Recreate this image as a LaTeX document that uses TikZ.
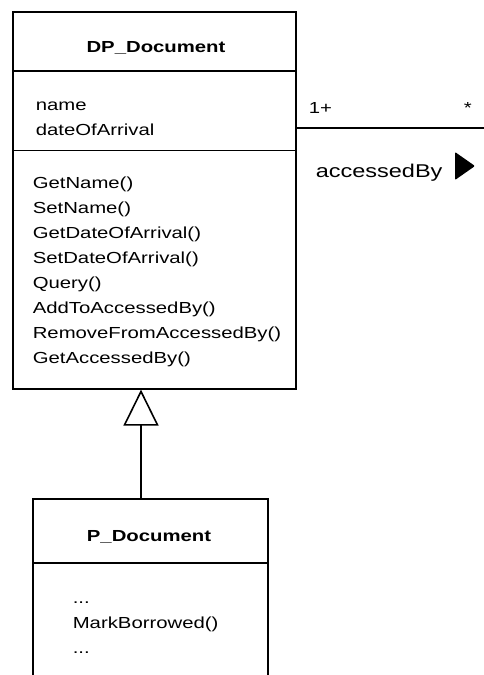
\documentclass[tikz,border=0pt]{standalone}
\usepackage{fontspec}
\setmainfont{Liberation Sans}[FakeStretch=1.27]
\usetikzlibrary{arrows.meta}
\begin{document}
\begin{tikzpicture}[x=1pt,y=-1pt,line width=1.6pt,
  classbox/.style={draw,rectangle,inner sep=0pt,anchor=north west},
  cname/.style={font=\bfseries\fontsize{16}{20}\selectfont,anchor=base,inner sep=0pt},
  member/.style={font=\fontsize{16}{20}\selectfont,anchor=base west,inner sep=0pt},
  rolelabel/.style={font=\fontsize{18.5}{22}\selectfont,anchor=base west,inner sep=0pt}]
\useasboundingbox (0,0) rectangle (484,675);
\fill[white] (0,0) rectangle (484,675);
\clip (0,0) rectangle (484,675);
% classes
\node[classbox,minimum width=283pt,minimum height=377pt] (dp) at (12,11) {};
\node[classbox,minimum width=235pt,minimum height=200pt] (pd) at (32,498) {};
% compartment dividers
\coordinate (d1) at (0,71);
\coordinate (d2) at (0,150.5);
\coordinate (d3) at (0,563);
\draw (dp.west |- d1) -- (dp.east |- d1);
\draw (dp.west |- d2) -- (dp.east |- d2);
\draw (pd.west |- d3) -- (pd.east |- d3);
% class names
\node[cname] (dpname) at (156,52) {DP\_Document};
\node[cname] (pdname) at (149,541) {P\_Document};
% attributes
\node[member] (a1) at (35,110) {name};
\node[member] (a2) at (35,135) {dateOfArrival};
% operations
\foreach \t [count=\i from 0] in {GetName(),SetName(),GetDateOfArrival(),SetDateOfArrival(),Query(),AddToAccessedBy(),RemoveFromAccessedBy(),GetAccessedBy()}
  \node[member] (m\i) at (32,188+25*\i) {\t};
% P_Document members
\node[member] (p1) at (72,603) {...};
\node[member] (p2) at (72,628) {MarkBorrowed()};
\node[member] (p3) at (72,653) {...};
% generalization
\coordinate (gx) at (141,0);
\draw[-{Triangle[open,length=36pt,width=35pt,line width=1.6pt]}] (pd.north -| gx) -- (dp.south -| gx);
% association
\coordinate (ae) at (484,128);
\draw (dp.east |- ae) -- (ae);
\node[member] (mult1) at (308,113) {1+};
\node[member] (mult2) at (463,113) {*};
\node[rolelabel] (role) at (315,177) {accessedBy};
\fill[rounded corners=1pt] (455,152) -- (475,166) -- (455,180) -- cycle;
\end{tikzpicture}
\end{document}
